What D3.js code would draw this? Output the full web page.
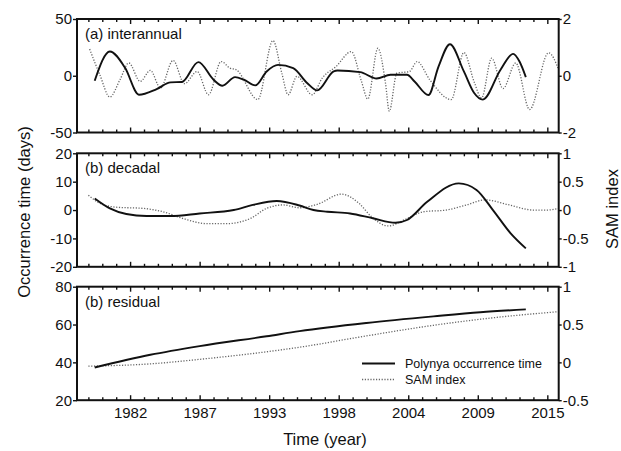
<!DOCTYPE html>
<meta charset="utf-8">
<style>
body { margin: 0; background: #fff; }
text { font-family: "Liberation Sans", Arial, sans-serif; fill: #111; }
.axis text { font-size: 15px; }
.axis line { stroke: #111; stroke-width: 1.4; }
.axis path { display: none; }
.frame { fill: none; stroke: #111; stroke-width: 2; }
.poly { fill: none; stroke: #111; stroke-width: 1.9; }
.sam { fill: none; stroke: #666; stroke-width: 1.3; stroke-dasharray: 1.2 1.6; }
.title { font-size: 16.5px; }
.plabel { font-size: 15px; }
.legend { font-size: 12.5px; }
</style>
<body>
<script src="https://d3js.org/d3.v7.min.js"></script>
<script>

// x axis ticks (labels as printed)
var yearTicks  = [1981.5, 1987, 1992.5, 1998, 2003.5, 2009, 2014.5];
var yearLabels = ["1982", "1987", "1993", "1998", "2004", "2009", "2015"];

// (a) interannual
var iaPolyYears = [1978.7,1979.9,1981.1,1982.2,1983.6,1984.7,1985.6,1986.9,1988.1,1988.8,1989.8,1990.5,1991.4,1992.3,1993.2,1994.4,1995.5,1996.3,1997.6,1997.9,1999.7,2001.0,2002.1,2003.4,2004.0,2005.1,2005.9,2006.8,2007.9,2008.7,2009.4,2010.8,2011.8,2012.3,2012.8];
var iaPoly      = [-4.4,21.3,7,-16.7,-11.7,-5.8,-5.5,12,-3.5,-8.8,-1.2,-3.5,-8.5,3.8,9.6,6.7,-6.4,-12.9,3.8,4.6,3.2,-2.4,0.9,0.9,-5,-17,8.2,27.8,3.8,-15,-21,5.3,19.3,12.5,-1.2];
var iaSamYears  = [1978.3,1979.1,1979.9,1980.7,1981.4,1982.3,1983.1,1983.9,1984.9,1985.8,1986.8,1987.7,1988.7,1989.4,1989.9,1991.6,1992.8,1993.5,1994.0,1994.7,1995.9,1996.7,1997.8,1999.0,1999.8,2000.3,2001.1,2001.7,2002.0,2002.6,2003.6,2004.2,2005.2,2006.9,2007.9,2008.7,2009.3,2010.1,2011.0,2012.0,2013.1,2014.6,2015.4];
var iaSam       = [0.94,0.04,-0.75,-0.14,0.45,-0.2,0.19,-0.43,0.54,-0.28,0.15,-0.67,0.5,0.27,0.21,-0.84,1.24,0.09,-0.67,-0.02,-0.67,-0.08,0.33,0.85,-0.2,-0.82,0.97,-0.26,-1.25,0.09,0.15,0.5,-0.14,-0.84,0.82,-0.2,-0.78,0.62,-0.45,0.45,-1.19,0.81,0.21];

// (b) decadal
var dcPolyYears = [1978.7,1979.9,1981.2,1982.8,1984.7,1987.0,1989.7,1991.2,1993.1,1994.9,1996.0,1997.1,1998.9,2000.7,2002.5,2003.4,2005.0,2007.5,2008.9,2010.2,2011.6,2012.8];
var dcPoly      = [4.1,0.6,-1.4,-2.1,-2.1,-1.2,0,1.8,3.2,1.6,0,-0.6,-1.2,-2.9,-4.5,-3.5,2.9,9.4,7.1,0,-8.2,-13.5];
var dcSamYears  = [1978.2,1979.1,1980.4,1982.5,1984.1,1985.7,1987.6,1989.1,1991.0,1992.3,1993.6,1994.9,1996.3,1998.2,1999.6,2000.6,2001.9,2003.4,2004.7,2006.5,2008.1,2009.6,2011.3,2013.4,2014.5,2015.4];
var dcSam       = [0.26,0.12,0.05,0.03,-0.03,-0.15,-0.24,-0.24,-0.15,0.03,0.09,0.04,0.1,0.28,0.12,-0.12,-0.28,-0.15,-0.03,0,0.09,0.18,0.1,0,0,0.03];

// (b) residual
var rsPolyYears = [1978.7,1983.1,1987.0,1992.3,1994.9,2000.2,2005.5,2009.2,2012.8];
var rsPoly      = [37.3,44,48.6,53.8,56.5,60.8,64.3,66.5,68];
var rsSamYears  = [1978.2,1983.1,1987.0,1992.3,1994.9,2000.2,2005.5,2010.8,2015.4];
var rsSam       = [-0.05,-0.02,0.04,0.14,0.2,0.35,0.49,0.6,0.67];

var panelNames = ["(a) interannual", "(b) decadal", "(b) residual"];
var leftTicks  = [[-50, 0, 50], [-20, -10, 0, 10, 20], [20, 40, 60, 80]];
var rightTicks = [[-2, 0, 2], [-1, -0.5, 0, 0.5, 1], [-0.5, 0, 0.5, 1]];

var panels = [
  {name: panelNames[0], lt: leftTicks[0], rt: rightTicks[0], px: iaPolyYears, py: iaPoly, sx: iaSamYears, sy: iaSam},
  {name: panelNames[1], lt: leftTicks[1], rt: rightTicks[1], px: dcPolyYears, py: dcPoly, sx: dcSamYears, sy: dcSam},
  {name: panelNames[2], lt: leftTicks[2], rt: rightTicks[2], px: rsPolyYears, py: rsPoly, sx: rsSamYears, sy: rsSam}
];

var W = 621, H = 451;
var left = 77, right = 558.7, ph = 113.5;
var tops = [19, 153.3, 286.7];

var svg = d3.select("body").append("svg")
    .attr("width", W)
    .attr("height", H);

var x = d3.scaleLinear().domain([1977.3, 2015.4]).range([left, right]);

// minor ticks every 1.1 yr, skipping majors
var minorTicks = d3.range(1978.2, 2015.4, 1.1).filter(function(t) {
  return !yearTicks.some(function(m) { return Math.abs(m - t) < 0.05; });
});

panels.forEach(function(p, i) {
  var t = tops[i], b = t + ph;
  var yL = d3.scaleLinear().domain(d3.extent(p.lt)).range([b, t]);
  var yR = d3.scaleLinear().domain(d3.extent(p.rt)).range([b, t]);
  var g = svg.append("g");

  // bottom axis (inward ticks)
  g.append("g").attr("class", "axis")
    .attr("transform", "translate(0," + b + ")")
    .call(d3.axisBottom(x).tickValues(yearTicks).tickSizeInner(-5).tickSizeOuter(0).tickPadding(7)
      .tickFormat(function(d, k) { return i == 2 ? yearLabels[k] : ""; }));
  g.append("g").attr("class", "axis")
    .attr("transform", "translate(0," + b + ")")
    .call(d3.axisBottom(x).tickValues(minorTicks).tickSizeInner(-3).tickSizeOuter(0).tickFormat(""));
  // top axis
  g.append("g").attr("class", "axis")
    .attr("transform", "translate(0," + t + ")")
    .call(d3.axisTop(x).tickValues(yearTicks).tickSizeInner(-5).tickSizeOuter(0).tickFormat(""));
  g.append("g").attr("class", "axis")
    .attr("transform", "translate(0," + t + ")")
    .call(d3.axisTop(x).tickValues(minorTicks).tickSizeInner(-3).tickSizeOuter(0).tickFormat(""));

  g.append("g").attr("class", "axis")
    .attr("transform", "translate(" + left + ",0)")
    .call(d3.axisLeft(yL).tickValues(p.lt).tickSize(4).tickPadding(1).tickFormat(function(d) { return String(d); }));
  g.append("g").attr("class", "axis")
    .attr("transform", "translate(" + right + ",0)")
    .call(d3.axisRight(yR).tickValues(p.rt).tickSize(3).tickPadding(1).tickFormat(function(d) { return String(d); }));

  var samLine = d3.line()
    .x(function(d) { return x(d[0]); })
    .y(function(d) { return yR(d[1]); })
    .curve(d3.curveMonotoneX);
  var polyLine = d3.line()
    .x(function(d) { return x(d[0]); })
    .y(function(d) { return yL(d[1]); })
    .curve(d3.curveMonotoneX);

  g.append("path").attr("class", "sam")
    .attr("d", samLine(d3.zip(p.sx, p.sy)));
  g.append("path").attr("class", "poly")
    .attr("d", polyLine(d3.zip(p.px, p.py)));

  g.append("rect").attr("class", "frame")
    .attr("x", left).attr("y", t)
    .attr("width", right - left).attr("height", ph);

  g.append("text").attr("class", "plabel")
    .attr("x", left + 8).attr("y", t + 20)
    .text(p.name);
});

// legend in the residual panel
var leg = svg.append("g");
leg.append("line").attr("class", "poly")
  .attr("x1", 362).attr("x2", 395).attr("y1", 363.5).attr("y2", 363.5);
leg.append("line").attr("class", "sam")
  .attr("x1", 362).attr("x2", 395).attr("y1", 379.5).attr("y2", 379.5);
leg.append("text").attr("class", "legend")
  .attr("x", 405).attr("y", 368).text("Polynya occurrence time");
leg.append("text").attr("class", "legend")
  .attr("x", 405).attr("y", 384).text("SAM index");

// axis titles
svg.append("text").attr("class", "title")
  .attr("transform", "translate(30,212) rotate(-90)")
  .style("text-anchor", "middle")
  .text("Occurrence time (days)");
svg.append("text").attr("class", "title")
  .attr("transform", "translate(618,209) rotate(-90)")
  .style("text-anchor", "middle")
  .text("SAM index");
svg.append("text").attr("class", "title")
  .attr("x", 325).attr("y", 445)
  .style("text-anchor", "middle")
  .text("Time (year)");

</script>
</body>
